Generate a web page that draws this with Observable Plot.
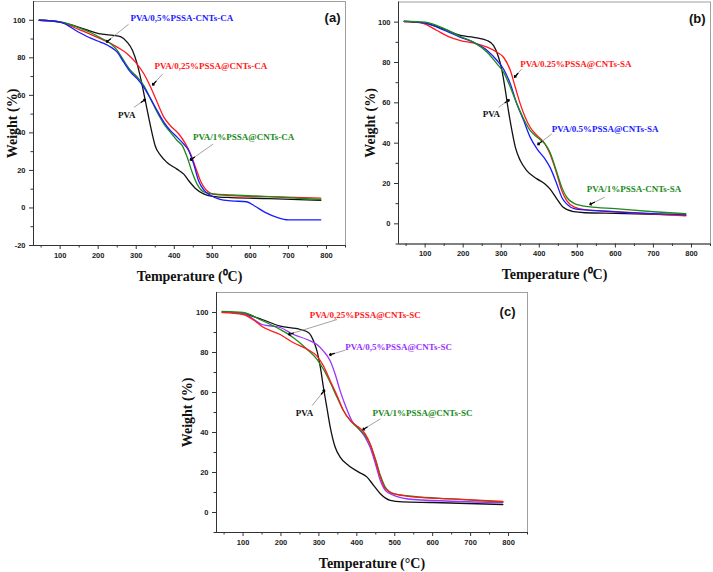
<!DOCTYPE html>
<html>
<head>
<meta charset="utf-8">
<script src="https://cdn.jsdelivr.net/npm/d3@7"></script>
<script src="https://cdn.jsdelivr.net/npm/@observablehq/plot@0.6"></script>
<style>
  body { margin: 0; background: #fff; }
  #fig { position: relative; width: 713px; height: 572px; }
  #fig > svg { position: absolute; }
</style>
</head>
<body>
<div id="fig"></div>
<script>
// TGA curves: [temperature °C, weight %]
const aPVA = [[45,100],[70,99.8],[100,99],[130,97.6],[160,95.6],[190,93.6],[210,92.6],[240,92],[260,91.2],[276,88.4],[290,84],[302,77],[315,66],[324,57],[333,48],[342,39.5],[350,33],[364,28],[381,24.2],[407,20.7],[425,18],[438,14.5],[455,10.5],[477,7.5],[500,6.2],[550,5.5],[650,5],[785,4]];
const aCA25 = [[45,100],[100,99],[150,95],[180,92.5],[206,90.2],[230,88],[250,85.7],[276,82.2],[298,77.7],[320,71.5],[338,64.3],[355,56.3],[373,48.3],[390,43.8],[412,39.4],[430,34],[443,28.7],[456,21.6],[469,14.4],[482,10],[504,7.3],[550,6.6],[650,6],[785,5.2]];
const aCA05 = [[45,100],[100,99],[150,93.5],[180,90.5],[206,88.4],[233,85.7],[250,83],[267,77.7],[285,72.4],[303,68.8],[320,64.3],[338,58.1],[355,51.9],[373,45.6],[390,41.2],[408,37.6],[425,34],[438,30.5],[451,23.4],[464,14.4],[478,9.5],[495,6.8],[520,4.6],[550,3.8],[590,3.3],[610,1.2],[640,-2.5],[670,-5],[700,-6.3],[785,-6.3]];
const aCA1 = [[45,100],[100,99.2],[150,96],[180,93.5],[206,90.7],[233,87.5],[250,84],[267,78.6],[285,73.3],[303,69.7],[320,65.2],[338,58],[355,51],[373,44.7],[390,40.3],[408,35.8],[421,33.2],[434,27],[447,19],[460,12.7],[478,8.5],[500,7.5],[550,7],[650,6],[785,4.5]];

const bPVA = [[45,100.3],[100,99.5],[150,96.5],[193,93.4],[228,92.5],[263,90.9],[280,88.4],[293,82.6],[302,76],[311,66],[319,56],[328,46.3],[337,38],[350,31.4],[367,26.4],[394,22.3],[415,19.8],[428,17.3],[446,12.4],[463,8.2],[490,6],[520,5.5],[600,5.2],[785,4.3]];
const bSA25 = [[45,100.3],[80,100],[100,99],[130,96],[160,93],[193,90.9],[228,89.6],[263,87.6],[289,85.1],[306,82.6],[324,76],[337,67.7],[350,59.5],[363,52.9],[376,47.9],[394,43.8],[415,39.6],[428,34.7],[446,24.8],[459,16.5],[472,11.5],[494,8.2],[520,7],[600,6],[785,4]];
const bSA05 = [[45,100.5],[100,99.5],[150,96],[193,92.5],[228,90],[263,86],[289,81],[306,76.8],[324,69.4],[341,59.5],[359,51.2],[376,43],[394,37.2],[415,32.2],[428,28.1],[446,19.8],[459,13.2],[472,9.9],[494,7.4],[550,6.5],[785,4.5]];
const bSA1 = [[45,100.5],[100,100],[150,96.8],[193,92.9],[228,90],[263,85.1],[289,79.3],[306,75.2],[324,67.7],[341,59.5],[359,52],[376,46.3],[394,43],[415,39.6],[428,35.5],[446,25.6],[459,18.2],[472,13.2],[494,9.9],[530,8.5],[600,7.5],[700,6],[785,5]];

const cPVA = [[45,100.3],[100,99.5],[150,96.5],[198,93.2],[251,91.5],[273,89.9],[286,85.7],[295,80.7],[304,72.4],[312,62.5],[321,52.5],[330,42.6],[343,32.6],[356,27.7],[378,23.5],[405,20.2],[427,17.7],[444,13.6],[462,9.4],[488,6.1],[520,5.3],[600,5],[785,4]];
const cSC25 = [[45,100],[100,99],[130,96],[150,93],[198,89],[233,84.9],[269,81.6],[295,78.2],[312,73.3],[330,65.8],[348,58.4],[365,50.9],[383,45.9],[405,42.6],[422,39.3],[435,34.3],[449,26],[462,17.7],[475,11.9],[497,9.4],[550,7.8],[650,6.8],[785,5.5]];
const cSC05 = [[45,100.2],[100,99.5],[150,94],[198,92.5],[233,89],[269,86.5],[295,84],[312,80.7],[330,75.8],[343,69.1],[356,60.8],[370,53.4],[387,45.9],[405,41.8],[422,37.6],[435,32.6],[449,24.4],[462,16],[475,11.1],[497,8.6],[550,6.5],[785,5]];
const cSC1 = [[45,100.5],[100,100],[150,96],[198,91.5],[233,87.4],[269,81.6],[295,76.6],[312,71.6],[330,65],[348,57.5],[365,50.9],[383,45.9],[405,41.8],[422,38.5],[435,34.3],[449,26.8],[462,18.6],[475,12.7],[497,9.4],[550,8],[650,6.8],[785,5.3]];

// Axis ticks
const xTicks = [100, 200, 300, 400, 500, 600, 700, 800];
const xMinor = [50, 150, 250, 350, 450, 550, 650, 750, 850];
const yTicksA = [-20, 0, 20, 40, 60, 80, 100];
const yTicksBC = [0, 20, 40, 60, 80, 100];
const yMinor = [-10, 10, 30, 50, 70, 90];

// Curve labels with leader arrows (data coordinates)
const notesA = [
  {label: "PVA/0,5%PSSA-CNTs-CA", key: "blue", tx: 285, ty: 101, x1: 280, y1: 97.9, x2: 222, y2: 88.4},
  {label: "PVA/0,25%PSSA@CNTs-CA", key: "red", tx: 348, ty: 75.4, x1: 370, y1: 71.5, x2: 343, y2: 65.5},
  {label: "PVA", key: "black", tx: 275, ty: 49.7, x1: 294, y1: 53.6, x2: 324, y2: 57.8},
  {label: "PVA/1%PSSA@CNTs-CA", key: "green", tx: 449, ty: 37.6, x1: 502, y1: 34, x2: 442, y2: 25.5}
];
const notesB = [
  {label: "PVA/0.25%PSSA@CNTs-SA", key: "red", tx: 350, ty: 79.3, x1: 354, y1: 76.8, x2: 335, y2: 72.7},
  {label: "PVA", key: "black", tx: 274, ty: 54.5, x1: 293, y1: 57.8, x2: 321, y2: 61.5},
  {label: "PVA/0.5%PSSA@CNTs-SA", key: "blue", tx: 433, ty: 47, x1: 433, y1: 44.6, x2: 396, y2: 39.3},
  {label: "PVA/1%PSSA-CNTs-SA", key: "green", tx: 525, ty: 17.4, x1: 572, y1: 13.2, x2: 533, y2: 9.6}
];
const notesC = [
  {label: "PVA/0,25%PSSA@CNTs-SC", key: "red", tx: 275.6, ty: 98.7, x1: 348, y1: 96.5, x2: 220, y2: 89},
  {label: "PVA/0,5%PSSA@CNTs-SC", key: "purple", tx: 369.6, ty: 82.7, x1: 370, y1: 81.2, x2: 328, y2: 78.8},
  {label: "PVA", key: "black", tx: 262, ty: 49.7, x1: 282, y1: 53.4, x2: 315, y2: 61.2},
  {label: "PVA/1%PSSA@CNTs-SC", key: "green", tx: 441.6, ty: 49.7, x1: 462, y1: 46.8, x2: 416, y2: 41.4}
];

const palette = {black: "#111111", red: "#ff1a1a", blue: "#1a1aff", green: "#1a8a1a", purple: "#9933ff"};

const tickFont = "'Liberation Sans', Arial, sans-serif";
const titleFont = "'Liberation Serif', 'Times New Roman', serif";
const xDomain = [30, 850];

function panel(opts) {
  const {series, notes, tag, tagDx, tagDy, yDomain, yTicks, xLabel, yLabelDx,
         left, top, width, height, margins} = opts;
  const [mt, mr, mb, ml] = margins;
  const rows = series.flatMap(s => s.points.map(([t, w]) => ({t, w, key: s.key})));

  // Same scales the plot will use, to place a short black head at each leader's tip
  const sx = Plot.scale({x: {domain: xDomain, range: [ml, width - mr]}});
  const sy = Plot.scale({y: {domain: yDomain, range: [height - mb, mt]}});
  const leaders = notes.map(n => {
    const px1 = sx.apply(n.x1), py1 = sy.apply(n.y1);
    const px2 = sx.apply(n.x2), py2 = sy.apply(n.y2);
    const len = Math.hypot(px2 - px1, py2 - py1);
    const k = 5 / len;
    return {
      ...n, color: palette[n.key],
      hx: sx.invert(px2 - (px2 - px1) * k),
      hy: sy.invert(py2 - (py2 - py1) * k)
    };
  });

  const svg = Plot.plot({
    width, height,
    marginLeft: ml, marginRight: mr, marginTop: mt, marginBottom: mb,
    style: {background: "transparent", overflow: "visible"},
    x: {domain: xDomain},
    y: {domain: yDomain},
    marks: [
      Plot.frame({stroke: "#a0a0a0", strokeWidth: 1}),
      Plot.axisX({ticks: xTicks, tickSize: 4, tickPadding: 3, label: null, tickFormat: d => String(d),
        fontSize: 7.5, fontWeight: "bold", fontFamily: tickFont, stroke: "#333", fill: "#222"}),
      Plot.axisX({ticks: xMinor, tickSize: 2.5, text: null, label: null, stroke: "#333"}),
      Plot.axisY({ticks: yTicks, tickSize: 4, tickPadding: 4, label: null, tickFormat: d => String(d),
        fontSize: 7.5, fontWeight: "bold", fontFamily: tickFont, stroke: "#333", fill: "#222"}),
      Plot.axisY({ticks: yMinor, tickSize: 2.5, text: null, label: null, stroke: "#333"}),
      Plot.ruleX([xDomain[0]], {stroke: "#333", strokeWidth: 1}),
      Plot.ruleY([yDomain[0]], {stroke: "#333", strokeWidth: 1}),
      Plot.line(rows, {x: "t", y: "w", z: "key", stroke: d => palette[d.key], strokeWidth: 1.3, curve: "monotone-x"}),
      Plot.link(leaders, {x1: "x1", y1: "y1", x2: "x2", y2: "y2", stroke: "#8c8c8c", strokeWidth: 0.8}),
      Plot.arrow(leaders, {x1: "hx", y1: "hy", x2: "x2", y2: "y2", stroke: "#000", strokeWidth: 1.3,
        headLength: 3.5, headAngle: 80}),
      Plot.text(leaders.filter(n => n.label !== "PVA"), {x: "tx", y: "ty", text: "label", fill: "color",
        textAnchor: "start", fontSize: 9, fontWeight: "bold", fontFamily: titleFont}),
      Plot.text(leaders.filter(n => n.label === "PVA"), {x: "tx", y: "ty", text: "label", fill: "color",
        textAnchor: "middle", fontSize: 9, fontWeight: "bold", fontFamily: titleFont}),
      Plot.text([tag], {frameAnchor: "top-right", dx: tagDx, dy: tagDy, lineAnchor: "middle", textAnchor: "end",
        fontSize: 13, fontWeight: "bold", fontFamily: tickFont, fill: "#111"}),
      Plot.text([xLabel], {frameAnchor: "bottom", dy: 31, lineAnchor: "middle", textAnchor: "middle",
        fontSize: 14, fontWeight: "bold", fontFamily: titleFont, fill: "#111"}),
      Plot.text(["Weight (%)"], {frameAnchor: "left", dx: yLabelDx, rotate: -90, lineAnchor: "middle", textAnchor: "middle",
        fontSize: 14, fontWeight: "bold", fontFamily: titleFont, fill: "#111"})
    ]
  });
  svg.style.left = left + "px";
  svg.style.top = top + "px";
  return svg;
}

const fig = document.getElementById("fig");

fig.append(panel({
  series: [
    {key: "black", points: aPVA}, {key: "red", points: aCA25},
    {key: "green", points: aCA1}, {key: "blue", points: aCA05}
  ],
  notes: notesA, tag: "(a)", tagDx: -5, tagDy: 16,
  yDomain: [-20, 110], yTicks: yTicksA,
  xLabel: "Temperature (\u2070C)", yLabelDx: -21,
  left: 0, top: 0, width: 352, height: 285, margins: [1, 7, 40, 33]
}));

fig.append(panel({
  series: [
    {key: "black", points: bPVA}, {key: "red", points: bSA25},
    {key: "blue", points: bSA05}, {key: "green", points: bSA1}
  ],
  notes: notesB, tag: "(b)", tagDx: -5, tagDy: 17,
  yDomain: [-10, 110], yTicks: yTicksBC,
  xLabel: "Temperature (\u2070C)", yLabelDx: -28,
  left: 360, top: 0, width: 353, height: 285, margins: [1.5, 3, 41.5, 38]
}));

fig.append(panel({
  series: [
    {key: "black", points: cPVA}, {key: "purple", points: cSC05},
    {key: "green", points: cSC1}, {key: "red", points: cSC25}
  ],
  notes: notesC, tag: "(c)", tagDx: -12, tagDy: 19,
  yDomain: [-10, 110], yTicks: yTicksBC,
  xLabel: "Temperature (\u00B0C)", yLabelDx: -29,
  left: 180, top: 287, width: 355, height: 285, margins: [5, 8, 40, 36]
}));
</script>
</body>
</html>
